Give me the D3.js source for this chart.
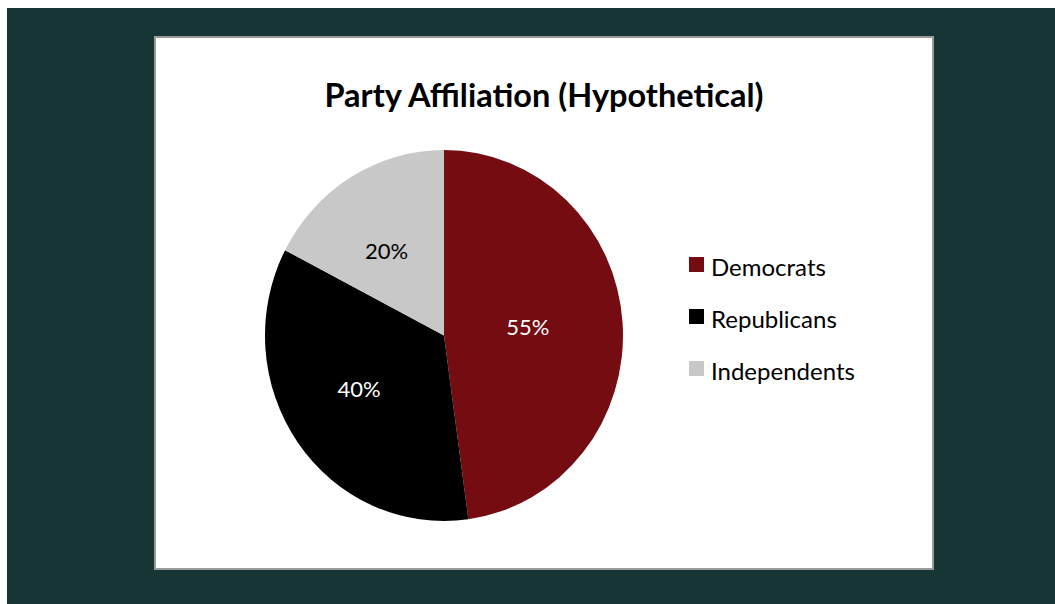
<!DOCTYPE html>
<html>
<head>
<meta charset="utf-8">
<script src="https://cdn.jsdelivr.net/npm/d3@7"></script>
<style>
  body { margin: 0; background: #fff; }
  svg { display: block; }
</style>
</head>
<body>
<div id="chart"></div>
<script>
// data
var parties = ["Democrats", "Republicans", "Independents"];
var shares = [55, 40, 20];
var labels = ["55%", "40%", "20%"];
var colours = ["#740c11", "#000000", "#c8c8c8"];
var labelColours = ["#ffffff", "#ffffff", "#000000"];

var W = 1055, H = 604;

var svg = d3.select("#chart").append("svg")
    .attr("width", W)
    .attr("height", H);

// dark frame
svg.append("rect")
    .attr("x", 7).attr("y", 8)
    .attr("width", W - 7).attr("height", H - 8)
    .attr("fill", "#183535");

// white chart box
svg.append("rect")
    .attr("x", 155).attr("y", 37)
    .attr("width", 778).attr("height", 532)
    .attr("fill", "#ffffff")
    .attr("stroke", "#9a9a9a")
    .attr("stroke-width", 2);

svg.append("text")
    .attr("x", 544)
    .attr("y", 107)
    .attr("text-anchor", "middle")
    .style("font-family", "Lato, 'Open Sans', sans-serif")
    .style("font-weight", "bold")
    .style("font-size", "32.5px")
    .attr("fill", "#000")
    .text("Party Affiliation (Hypothetical)");

// pie
var rx = 179, ry = 185.5;
var pie = d3.pie().sort(null).value(function(d) { return d; });
var arc = d3.arc().innerRadius(0).outerRadius(rx);
var labelArc = d3.arc().innerRadius(rx * 0.52).outerRadius(rx * 0.52);

var g = svg.append("g")
    .attr("transform", "translate(444,335.5) scale(1," + (ry / rx) + ")");

var slices = pie(shares);

g.selectAll("path.slice")
    .data(slices)
    .enter()
    .append("path")
    .attr("class", "slice")
    .attr("d", arc)
    .attr("fill", function(d, i) { return colours[i]; });

// labels sit a little left of the true centroid, like the original
var lg = svg.append("g").attr("transform", "translate(435,334)");
lg.selectAll("text")
    .data(slices)
    .enter()
    .append("text")
    .attr("x", function(d) { return labelArc.centroid(d)[0]; })
    .attr("y", function(d) { return labelArc.centroid(d)[1] * ry / rx; })
    .attr("dy", "0.35em")
    .attr("text-anchor", "middle")
    .style("font-family", "Lato, 'Open Sans', sans-serif")
    .style("font-size", "22px")
    .attr("fill", function(d, i) { return labelColours[i]; })
    .text(function(d, i) { return labels[i]; });

// legend
var leg = svg.append("g").attr("transform", "translate(689,257)");
var item = leg.selectAll("g")
    .data(parties)
    .enter()
    .append("g")
    .attr("transform", function(d, i) { return "translate(0," + (i * 52) + ")"; });

item.append("rect")
    .attr("width", 15).attr("height", 15)
    .attr("fill", function(d, i) { return colours[i]; });

item.append("text")
    .attr("x", 22)
    .attr("y", 19)
    .style("font-family", "Lato, 'Open Sans', sans-serif")
    .style("font-size", "24px")
    .attr("fill", "#000")
    .text(function(d) { return d; });
</script>
</body>
</html>
